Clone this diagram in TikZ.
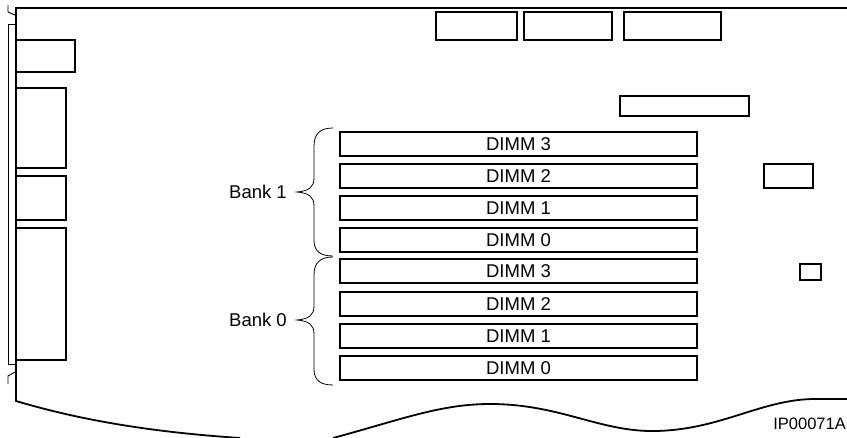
\documentclass[tikz,border=0pt]{standalone}
\usepackage{fontspec}
\setmainfont{Liberation Sans}
\begin{document}
\begin{tikzpicture}[x=1pt,y=-1pt,
  board/.style={line width=1.8pt},
  part/.style={line width=1.2pt},
  thin/.style={line width=0.9pt},
  br/.style={line width=0.8pt},
  dimm/.style={draw,line width=1.5pt,minimum width=357pt,minimum height=24pt,inner sep=0pt,
    font=\fontsize{18.5}{20}\selectfont},
  lbl/.style={inner sep=0pt,font=\fontsize{18.5}{20}\selectfont},
  idlbl/.style={inner sep=0pt,font=\fontsize{16.5}{18}\selectfont}]
\useasboundingbox (0,0) rectangle (847,438);
\fill[white] (0,0) rectangle (847,438);
% board outline
\draw[board] (847,8) -- (16,8) -- (16,401) .. controls (80,420) and (150,432) .. (240,438);
\draw[board] (333,438) .. controls (400,420) and (440,404) .. (490,404)
  .. controls (560,404) and (600,432) .. (655,431)
  .. controls (720,430) and (760,400) .. (813,399) -- (847,399);
% notches and side rail
\draw[thin] (8,5) -- (8,12) -- (15,15);
\draw[thin] (15,372) -- (8,376) -- (8,384);
\draw[thin] (16,24) -- (8,24) -- (8,364) -- (16,364);
% left connectors
\draw[part] (16,40) rectangle (75,72);
\draw[part] (16,88) rectangle (66,168);
\draw[part] (16,176) rectangle (66,220);
\draw[part] (16,228) rectangle (66,360);
% top components
\draw[part] (436,12) rectangle (517,40);
\draw[part] (524,12) rectangle (612,40);
\draw[part] (624,12) rectangle (721,40);
\draw[part] (620,96) rectangle (749,116);
% right components
\draw[part] (764,164) rectangle (813,188);
\draw[part] (800,264) rectangle (821,280);
% DIMM slots
\node[dimm] (b13) at (518.5,144) {DIMM 3};
\node[dimm] (b12) at (518.5,176) {DIMM 2};
\node[dimm] (b11) at (518.5,208) {DIMM 1};
\node[dimm] (b10) at (518.5,240) {DIMM 0};
\node[dimm] (b03) at (518.5,271) {DIMM 3};
\node[dimm] (b02) at (518.5,304) {DIMM 2};
\node[dimm] (b01) at (518.5,336) {DIMM 1};
\node[dimm] (b00) at (518.5,368) {DIMM 0};
% braces
\draw[br] (333,128) .. controls (320,128) and (314,134) .. (314,146) -- (314,178)
  .. controls (314,187) and (309,191) .. (297,192)
  .. controls (309,193) and (314,197) .. (314,206) -- (314,240)
  .. controls (314,251) and (320,256) .. (333,256);
\draw[br] (333,257) .. controls (320,257) and (314,263) .. (314,275) -- (314,306)
  .. controls (314,315) and (309,319) .. (297,320)
  .. controls (309,321) and (314,325) .. (314,334) -- (314,369)
  .. controls (314,380) and (320,385) .. (333,385);
% labels
\node[lbl,anchor=east] (bank1) at (287,192) {Bank 1};
\node[lbl,anchor=east] (bank0) at (287,320) {Bank 0};
\node[idlbl,anchor=east] (fig) at (846,424) {IP00071A};
\end{tikzpicture}
\end{document}
